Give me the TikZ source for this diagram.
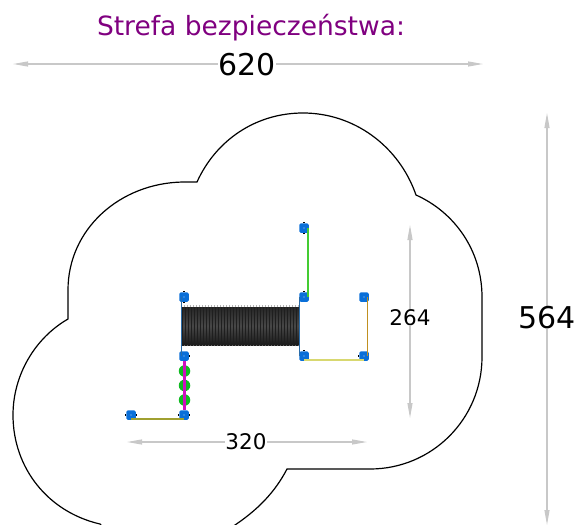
\documentclass[tikz,border=0pt]{standalone}
\usepackage{fontspec}
\setmainfont{DejaVu Sans}
\usetikzlibrary{arrows.meta,calc}
\definecolor{postblue}{HTML}{0A6FD8}
\definecolor{dimgray}{HTML}{C8C8C8}
\definecolor{titlepurple}{HTML}{800080}
\definecolor{ropeyellow}{HTML}{D8D870}
\definecolor{ropebrown}{HTML}{C09020}
\definecolor{ropeolive}{HTML}{A0A030}
\definecolor{ropegreen}{HTML}{44CC33}
\definecolor{ropemagenta}{HTML}{D010C0}
\definecolor{dotgreen}{HTML}{11BB22}
\definecolor{edgeblue}{HTML}{2A6CA8}
\tikzset{
  post/.style={draw=none,fill=postblue,rounded corners=1.5pt,minimum size=9.5pt,inner sep=0pt},
  dimline/.style={draw=dimgray,line width=1.1pt,{Triangle[length=15pt,width=5pt]}-{Triangle[length=15pt,width=5pt]}},
  dimbig/.style={font=\fontsize{30}{31}\selectfont,fill=white,inner sep=0pt},
  dimsmall/.style={font=\fontsize{21.5}{22}\selectfont,fill=white,inner sep=0pt},
  outline/.style={draw=black,line width=1.2pt,line join=miter},
  dotball/.style={circle,fill=dotgreen,minimum size=11.5pt,inner sep=0pt,draw=none},
  tick/.style={line width=1.1pt,black},
}
\begin{document}
\begin{tikzpicture}[x=1pt,y=-1pt]
\useasboundingbox (0,0) rectangle (576,525);
\clip (0,0) rectangle (576,525);
% safety zone outline
\draw[outline] (68,319) -- (68,290)
  .. controls (68,229) and (120,183) .. (183,182) -- (197,182)
  .. controls (216,140) and (256,113) .. (303,113)
  .. controls (354,113) and (399,146) .. (416,195)
  .. controls (454,212) and (482,250) .. (482,297) -- (482,357)
  .. controls (482,419) and (432,469) .. (370,469) -- (287,469)
  .. controls (275,492) and (258,510) .. (232,527)
  -- (232,535) -- (110,535) -- (100,524)
  .. controls (48,512) and (13,468) .. (13,415)
  .. controls (13,375) and (35,338) .. (68,319) -- cycle;
% mesh
\shade[top color=black!85,bottom color=black!90,middle color=black!72] (181,307) rectangle (299,345);
\foreach \i in {0,...,39}{
  \draw[black!88,line width=.3pt] ({182.5+\i*3},307) -- ({182.5+\i*3},345);
  \fill[black!60] ({181.5+\i*3},306) circle (.7);
  \fill[black!60] ({181.5+\i*3},345.5) circle (.7);
}
% balls
\node[dotball] (b1) at (184.5,371) {};
\node[dotball] (b2) at (184.5,385.5) {};
\node[dotball] (b3) at (184.5,400) {};
% posts
\node[post] (p1) at (184,297) {};
\node[post] (p2) at (304,297) {};
\node[post] (p3) at (364,297) {};
\node[post] (p4) at (304,228) {};
\node[post] (p5) at (184,356) {};
\node[post] (p6) at (304,356) {};
\node[post] (p7) at (364,356) {};
\node[post] (p8) at (131,415) {};
\node[post] (p9) at (184,415) {};
% connectors
\draw[edgeblue,line width=1pt] ([xshift=-3pt]p1.center) -- ([xshift=-3pt]p5.center);
\draw[edgeblue,line width=1pt] ([xshift=-5pt]p2.center) -- ([xshift=-5pt]p6.center);
\draw[ropegreen,line width=1.6pt] ([xshift=4pt]p4.center) -- ([xshift=4pt]p2.center);
\draw[ropeyellow,line width=1.7pt] ([yshift=-4pt]p6.center) -- ([yshift=-4pt]p7.center);
\draw[ropebrown,line width=1.5pt] ([xshift=3.5pt]p3.center) -- ([xshift=3.5pt]p7.center);
\draw[ropemagenta,line width=3pt] (p5.south) -- (p9.north);
\draw[ropeolive,line width=1.3pt] ([yshift=-4pt]p8.center) -- ([yshift=-4pt]p9.center);
% centre marks and ticks
\foreach \p in {p1,p2,p3,p4,p5,p6,p7,p8,p9}{
  \fill[white!70!postblue] (\p.center) circle (.7);
}
\foreach \p in {p1,p2,p4,p6}{
  \draw[tick] ([yshift=4.8pt]\p.center) -- ([yshift=5.8pt]\p.center);
}
\foreach \p in {p1,p4}{
  \draw[tick] ([yshift=-4.8pt]\p.center) -- ([yshift=-5.8pt]\p.center);
}
\foreach \p in {p5,p8,p9}{
  \draw[tick] ([xshift=4.8pt]\p.center) -- ([xshift=5.8pt]\p.center);
}
\foreach \p in {p7,p8,p9}{
  \draw[tick] ([xshift=-4.8pt]\p.center) -- ([xshift=-5.8pt]\p.center);
}
% dimensions
\coordinate (d620a) at (13,64);
\coordinate (d620b) at (483,64);
\draw[dimline] (d620a) -- (d620b);
\node[dimbig] (t620) at (247,65) {620};
\coordinate (d320a) at (127,442);
\coordinate (d320b) at (367,442);
\draw[dimline] (d320a) -- (d320b);
\node[dimsmall] (t320) at (246,442) {320};
\coordinate (d264a) at (410,225);
\coordinate (d264b) at (410,418);
\draw[dimline] (d264a) -- (d264b);
\node[dimsmall] (t264) at (410,318) {264};
\coordinate (d564a) at (547,113);
\coordinate (d564b) at (547,525);
\draw[dimline] (d564a) -- (d564b);
\node[dimbig] (t564) at (547,318) {564};
\node[text=titlepurple,font=\fontsize{26.5}{28}\selectfont,inner sep=0pt] (title) at (251,28) {Strefa bezpieczeństwa:};
\end{tikzpicture}
\end{document}
